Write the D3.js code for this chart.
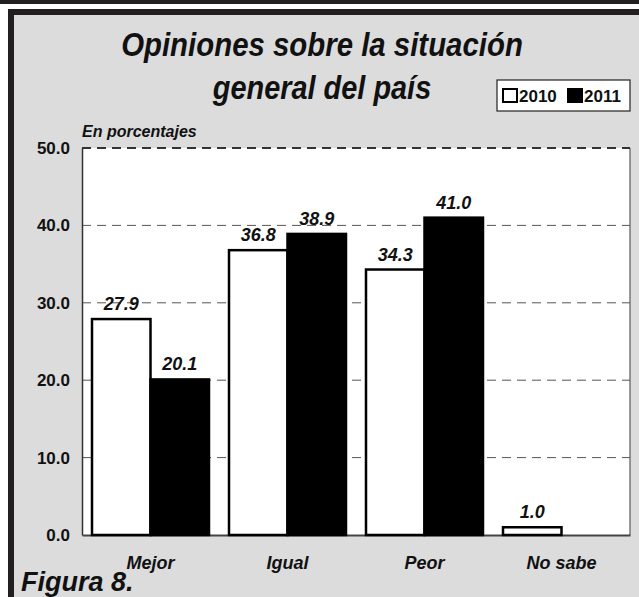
<!DOCTYPE html>
<html>
<head>
<meta charset="utf-8">
<script src="https://cdn.jsdelivr.net/npm/d3@7"></script>
<style>
  body { margin: 0; background: #fff; }
  svg { display: block; }
  text { font-family: "Liberation Sans", Arial, sans-serif; font-weight: bold; fill: #111; }
</style>
</head>
<body>
<div id="chart"></div>
<script>
// DATA
const categories = ['Mejor', 'Igual', 'Peor', 'No sabe'];
const years = ['2010', '2011'];
const values2010 = [27.9, 36.8, 34.3, 1.0];
const values2011 = [20.1, 38.9, 41.0, null];
const yTicks = [0, 10, 20, 30, 40, 50];

const width = 639, height = 597;
const margin = {top: 148, right: 9, bottom: 62, left: 82};
const plotW = width - margin.left - margin.right;
const plotH = height - margin.top - margin.bottom;

const svg = d3.select('#chart').append('svg')
    .attr('width', width)
    .attr('height', height);

// FRAME
svg.append('rect').attr('x', 0).attr('y', 0).attr('width', width).attr('height', 4).attr('fill', '#231f20');
svg.append('rect').attr('x', 8).attr('y', 9).attr('width', width - 8).attr('height', height - 9).attr('fill', '#231f20');
svg.append('rect').attr('x', 14).attr('y', 15).attr('width', width - 14).attr('height', height - 15).attr('fill', '#dcdcdd');

// TITLE (narrowed, the original uses a condensed face)
const titleLines = [
    {text: 'Opiniones sobre la situación', y: 56, sx: 0.865},
    {text: 'general del país', y: 99, sx: 0.85}
];
svg.append('g').selectAll('text').data(titleLines).join('text')
    .attr('text-anchor', 'middle')
    .attr('transform', d => `translate(322,${d.y}) scale(${d.sx},1)`)
    .style('font-size', '34px').style('font-style', 'italic')
    .text(d => d.text);

// LEGEND
const legend = svg.append('g').attr('transform', 'translate(497,80)');
legend.append('rect').attr('width', 133).attr('height', 31)
    .attr('fill', '#fff').attr('stroke', '#222').attr('stroke-width', 1.2);
years.forEach((yr, i) => {
    const gx = 6 + i * 65;
    legend.append('rect').attr('x', gx).attr('y', 9).attr('width', 14).attr('height', 13)
        .attr('fill', i === 0 ? '#fff' : '#000').attr('stroke', '#000').attr('stroke-width', 2);
    legend.append('text').attr('x', gx + 16).attr('y', 22)
        .style('font-size', '17px').text(yr);
});

const g = svg.append('g').attr('transform', `translate(${margin.left},${margin.top})`);

// SCALES
const x0 = d3.scaleBand().domain(categories).range([0, plotW]).paddingInner(0.146).paddingOuter(0.073);
const x1 = d3.scaleBand().domain(years).range([0, x0.bandwidth()]);
const y = d3.scaleLinear().domain([0, 50]).range([plotH, 0]);

// PLOT AREA
g.append('rect').attr('width', plotW).attr('height', plotH).attr('fill', '#fff');
g.append('line').attr('x1', plotW).attr('x2', plotW).attr('y1', 0).attr('y2', plotH)
    .attr('stroke', '#777').attr('stroke-width', 1.5);

// GRID
g.append('g').selectAll('line').data(yTicks.filter(t => t > 0)).join('line')
    .attr('x1', 0).attr('x2', plotW)
    .attr('y1', d => y(d)).attr('y2', d => y(d))
    .attr('stroke', d => d === 50 ? '#333' : '#555')
    .attr('stroke-width', d => d === 50 ? 2 : 1)
    .attr('stroke-dasharray', '9,6');

// Y AXIS
const yAxisG = g.append('g')
    .call(d3.axisLeft(y).tickValues(yTicks).tickFormat(d3.format('.1f')).tickSize(0).tickPadding(12));
yAxisG.select('.domain').attr('stroke', '#333').attr('stroke-width', 1.5);
yAxisG.selectAll('text').style('font-size', '17px').attr('fill', '#111')
    .style('font-family', '"Liberation Sans", Arial, sans-serif');

// X AXIS
const xAxisG = g.append('g').attr('transform', `translate(0,${plotH})`)
    .call(d3.axisBottom(x0).tickSize(0).tickPadding(18));
xAxisG.select('.domain').attr('stroke', '#444').attr('stroke-width', 2);
xAxisG.selectAll('text').style('font-size', '18px').style('font-style', 'italic').attr('fill', '#111')
    .attr('dy', '0.9em')
    .style('font-family', '"Liberation Sans", Arial, sans-serif');

// BARS
const rows = categories.map((c, i) => ({cat: c, vals: [
    {year: '2010', v: values2010[i]},
    {year: '2011', v: values2011[i]}
].filter(d => d.v !== null)}));

const groups = g.append('g').selectAll('g').data(rows).join('g')
    .attr('transform', d => `translate(${x0(d.cat)},0)`);

groups.selectAll('rect').data(d => d.vals).join('rect')
    .attr('x', d => x1(d.year))
    .attr('y', d => y(d.v))
    .attr('width', x1.bandwidth())
    .attr('height', d => y(0) - y(d.v))
    .attr('fill', d => d.year === '2010' ? '#fff' : '#000')
    .attr('stroke', '#000').attr('stroke-width', 2.5);

groups.selectAll('text').data(d => d.vals).join('text')
    .attr('x', d => x1(d.year) + x1.bandwidth() / 2)
    .attr('y', d => y(d.v) - 9)
    .attr('text-anchor', 'middle')
    .style('font-size', '18px').style('font-style', 'italic')
    .text(d => d.v.toFixed(1));

// NOTES
svg.append('text').attr('x', 82).attr('y', 137)
    .style('font-size', '16px').style('font-style', 'italic')
    .text('En porcentajes');
svg.append('text').attr('x', 21).attr('y', 591)
    .style('font-size', '27px').style('font-style', 'italic')
    .attr('fill', '#222')
    .text('Figura 8.');
</script>
</body>
</html>
